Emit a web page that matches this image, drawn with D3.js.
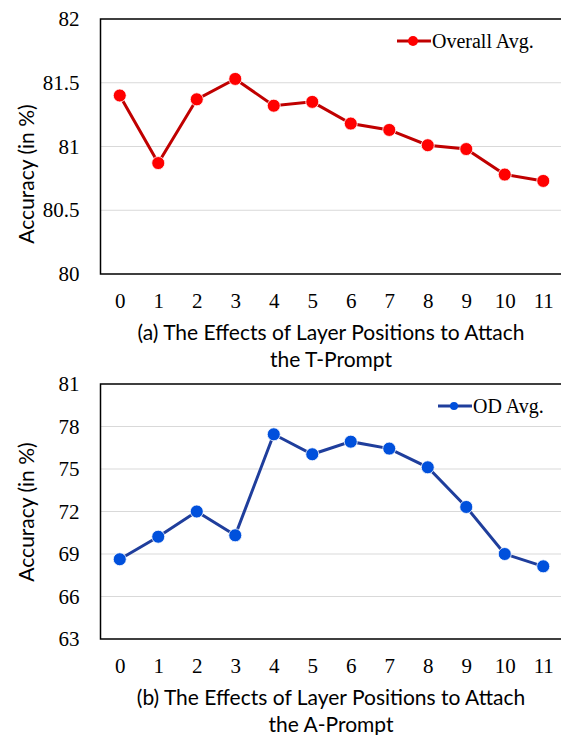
<!DOCTYPE html>
<html>
<head>
<meta charset="utf-8">
<script src="https://cdn.jsdelivr.net/npm/d3@7"></script>
<style>
  body { margin: 0; background: #fff; }
  svg { display: block; }
</style>
</head>
<body>
<div id="viz"></div>
<script>
// Data
const layers = [0, 1, 2, 3, 4, 5, 6, 7, 8, 9, 10, 11];
const overallAvg = [81.40, 80.87, 81.37, 81.53, 81.32, 81.35, 81.18, 81.13, 81.01, 80.98, 80.78, 80.73];
const odAvg = [68.63, 70.22, 72.0, 70.32, 77.45, 76.04, 76.93, 76.44, 75.12, 72.32, 69.0, 68.13];
const topTicks = [80, 80.5, 81, 81.5, 82];
const bottomTicks = [63, 66, 69, 72, 75, 78, 81];

const width = 561, height = 735;
const svg = d3.select("#viz").append("svg")
  .attr("width", width)
  .attr("height", height);

const serif = "'Liberation Serif', 'DejaVu Serif', serif";
const sans = "Lato, 'Open Sans', sans-serif";

function panel(opts) {
  const g = svg.append("g").attr("transform", `translate(0,${opts.top})`);
  const plotTop = 19, plotBottom = 274, plotLeft = 100.5;

  const x = d3.scalePoint()
    .domain(layers)
    .range([plotLeft, plotLeft + 38.5 * 12])
    .padding(0.5);
  const y = d3.scaleLinear()
    .domain(opts.domain)
    .range([plotBottom, plotTop]);

  // gridlines
  g.append("g")
    .selectAll("line")
    .data(opts.ticks.slice(1, -1))
    .join("line")
    .attr("x1", plotLeft)
    .attr("x2", width)
    .attr("y1", d => y(d))
    .attr("y2", d => y(d))
    .attr("stroke", "#d9d9d9")
    .attr("stroke-width", 1.2);

  // frame (right side runs off the picture)
  g.append("path")
    .attr("d", `M${width + 10},${plotTop}H${plotLeft}V${plotBottom}H${width + 10}`)
    .attr("fill", "none")
    .attr("stroke", "#000")
    .attr("stroke-width", 1.5);

  // y ticks
  const yAxis = d3.axisLeft(y)
    .tickValues(opts.ticks)
    .tickSize(0)
    .tickPadding(0)
    .tickFormat(d3.format("~g"));
  g.append("g")
    .attr("transform", `translate(${plotLeft - 21},0)`)
    .call(yAxis)
    .call(a => a.select(".domain").remove())
    .selectAll("text")
    .attr("font-family", serif)
    .attr("font-size", 21)
    .attr("fill", "#000");

  // x ticks
  const xAxis = d3.axisBottom(x).tickSize(0).tickPadding(0);
  g.append("g")
    .attr("transform", `translate(0,${plotBottom + 19})`)
    .call(xAxis)
    .call(a => a.select(".domain").remove())
    .selectAll("text")
    .attr("font-family", serif)
    .attr("font-size", 21)
    .attr("fill", "#000");

  // y title
  g.append("text")
    .attr("transform", `translate(34,${opts.titleY}) rotate(-90)`)
    .attr("text-anchor", "middle")
    .attr("font-family", sans)
    .attr("font-size", 21)
    .text("Accuracy (in %)");

  // caption
  const cap = g.append("text")
    .attr("text-anchor", "middle")
    .attr("font-family", sans)
    .attr("font-size", 21);
  cap.append("tspan").attr("x", 331).attr("y", 340).text(opts.caption[0]);
  cap.append("tspan").attr("x", 331).attr("y", 367).text(opts.caption[1]);

  // line
  const line = d3.line()
    .x((d, i) => x(layers[i]))
    .y(d => y(d));
  g.append("path")
    .datum(opts.values)
    .attr("d", line)
    .attr("fill", "none")
    .attr("stroke", opts.lineColor)
    .attr("stroke-width", 3);

  g.append("g")
    .selectAll("circle")
    .data(opts.values)
    .join("circle")
    .attr("cx", (d, i) => x(layers[i]))
    .attr("cy", d => y(d))
    .attr("r", 6.5)
    .attr("fill", opts.dotColor)
    .attr("stroke", "#fff")
    .attr("stroke-width", 0.8);

  // legend
  const lg = g.append("g").attr("transform", `translate(${opts.legendX},${opts.legendY})`);
  lg.append("line")
    .attr("x1", 0).attr("x2", 34)
    .attr("stroke", opts.lineColor)
    .attr("stroke-width", 3);
  lg.append("circle")
    .attr("cx", 16)
    .attr("r", opts.legendR)
    .attr("fill", opts.dotColor);
  lg.append("text")
    .attr("x", 35)
    .attr("y", 7)
    .attr("font-family", serif)
    .attr("font-size", 20)
    .text(opts.legend);
}

panel({
  top: 0,
  domain: [80, 82],
  ticks: topTicks,
  values: overallAvg,
  lineColor: "#c00000",
  dotColor: "#ff0000",
  legend: "Overall Avg.",
  legendX: 397,
  legendY: 41,
  legendR: 5,
  titleY: 174,
  caption: ["(a) The Effects of Layer Positions to Attach", "the T-Prompt"]
});

panel({
  top: 365,
  domain: [63, 81],
  ticks: bottomTicks,
  values: odAvg,
  lineColor: "#1f3e9c",
  dotColor: "#0050dc",
  legend: "OD Avg.",
  legendX: 438,
  legendY: 41,
  legendR: 4,
  titleY: 147,
  caption: ["(b) The Effects of Layer Positions to Attach", "the A-Prompt"]
});
</script>
</body>
</html>
